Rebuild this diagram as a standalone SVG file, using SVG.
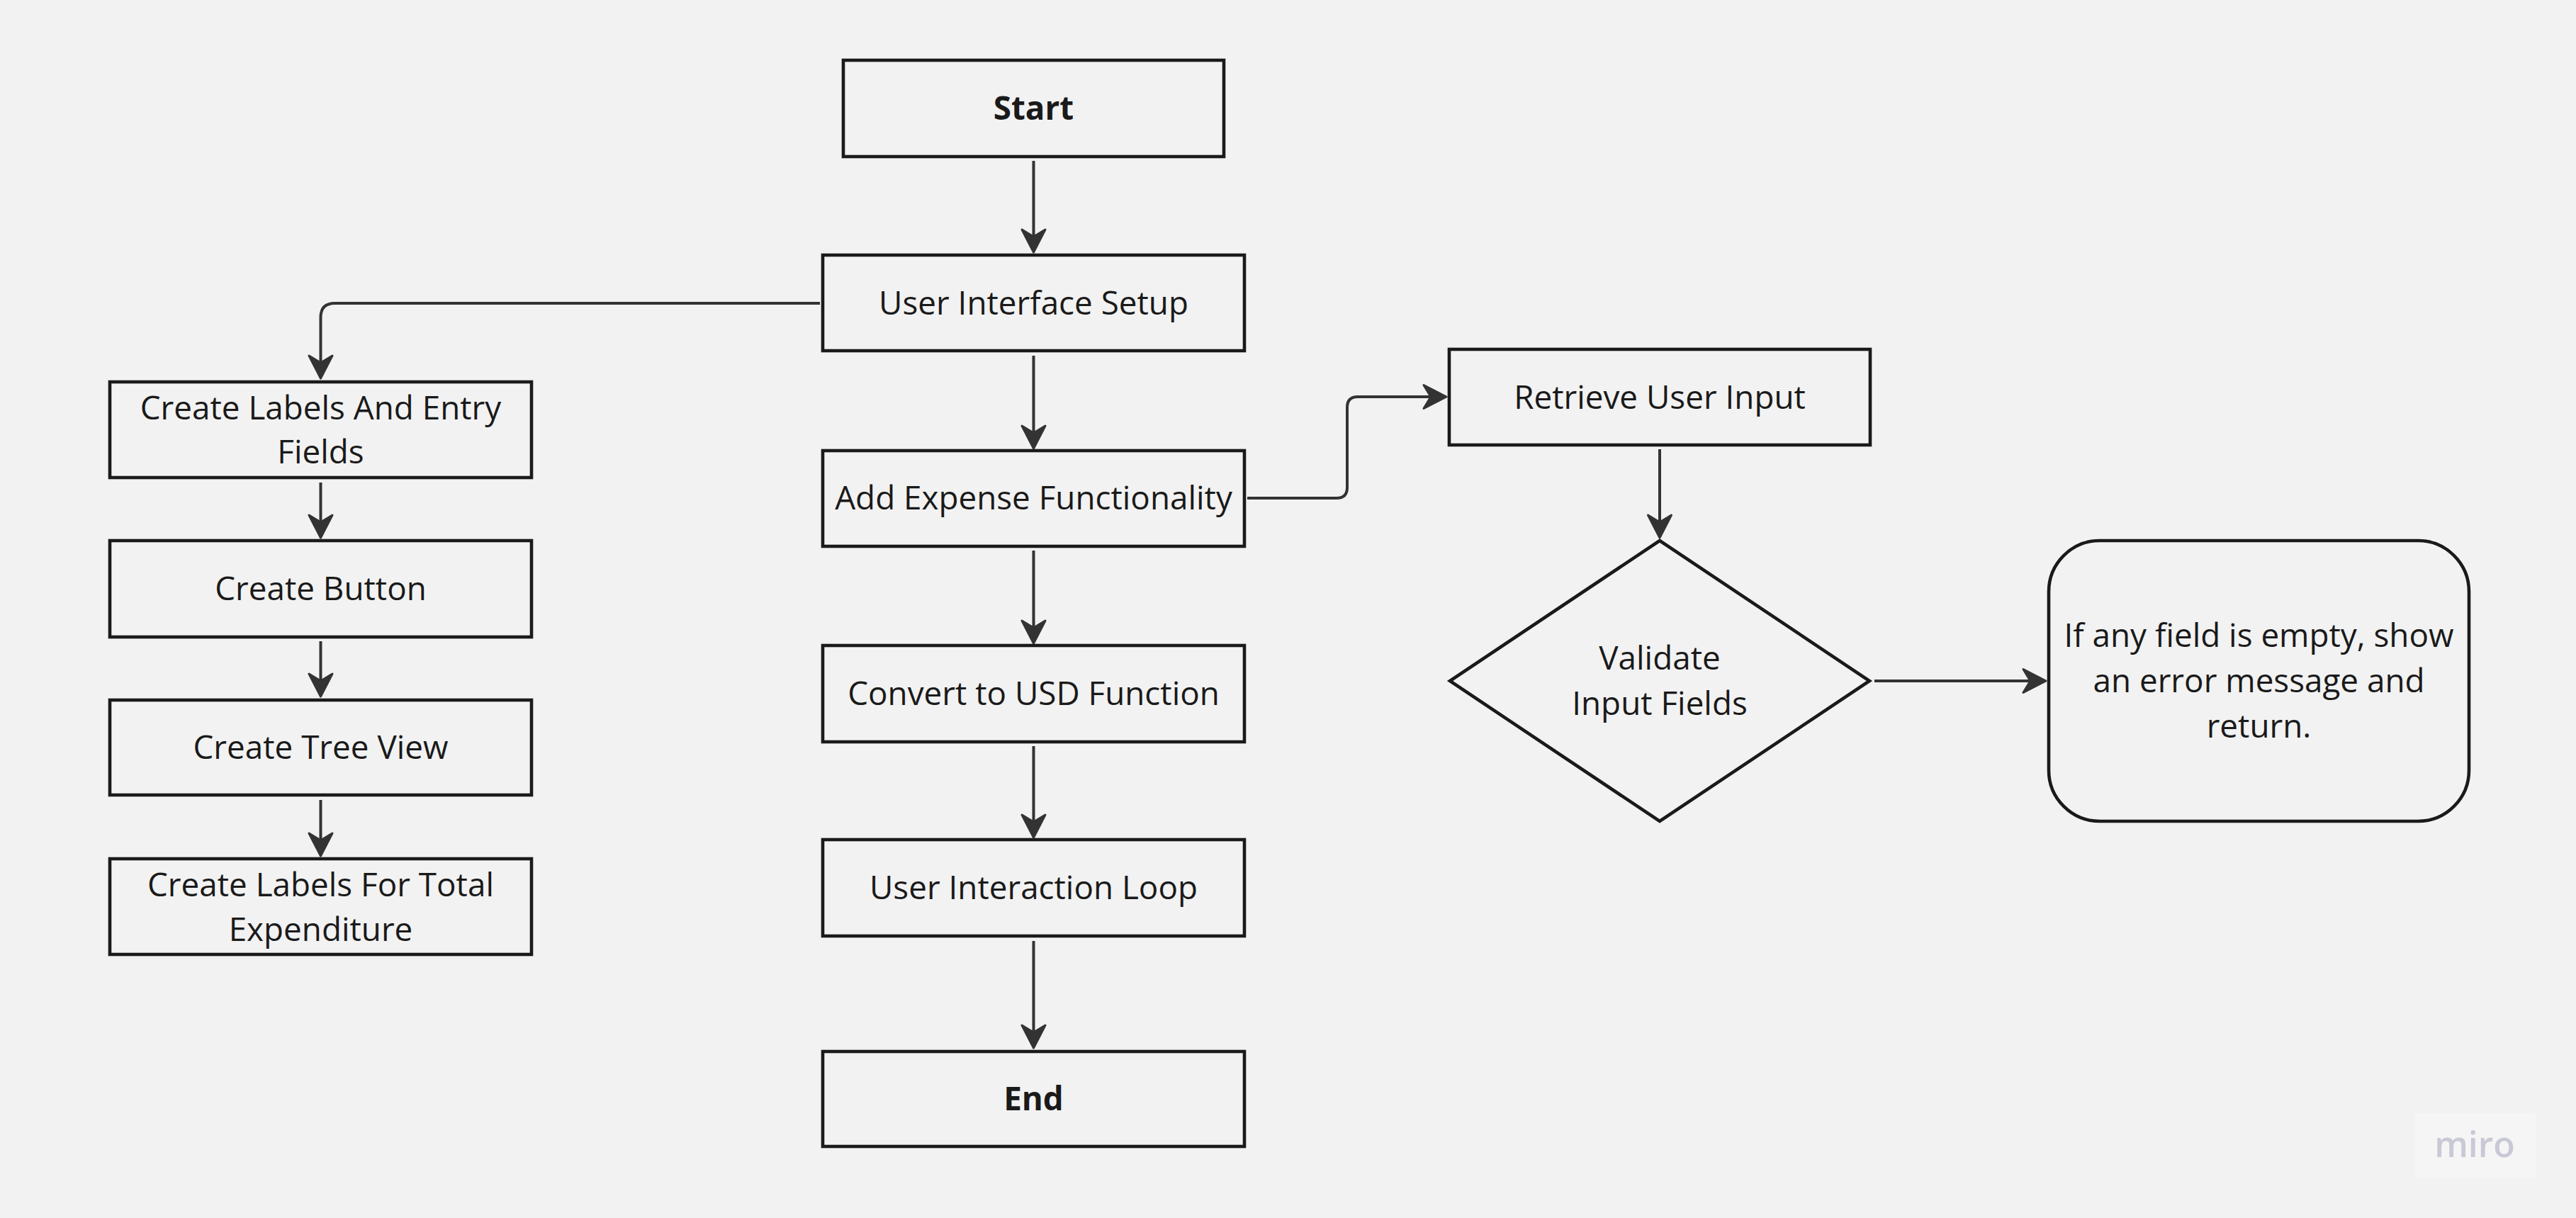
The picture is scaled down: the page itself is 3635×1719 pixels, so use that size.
<svg xmlns="http://www.w3.org/2000/svg" width="3635" height="1719" viewBox="0 0 3635 1719">
<style>
.bg{fill:#f2f2f2}
.box{fill:#f2f2f2;stroke:#1a1a1a;stroke-width:4.6}
.t{font-family:"Open Sans","Noto Sans","Liberation Sans",sans-serif;font-size:45.8px;fill:#1a1a1a;text-anchor:middle}
.b{font-weight:bold}
.c{fill:none;stroke:#333;stroke-width:4}
</style>
<defs>
<marker id="ah" markerUnits="userSpaceOnUse" viewBox="-14 -22 40 44" refX="0" refY="0" markerWidth="40" markerHeight="44" orient="auto" overflow="visible">
<path d="M22,0 L-10,-16.5 L0,0 L-10,16.5 Z" fill="#333" stroke="#333" stroke-width="3" stroke-linejoin="round"/>
</marker>
</defs>
<rect class="bg" x="0" y="0" width="3635" height="1719"/>

<g id="connectors">
<path class="c" marker-end="url(#ah)" d="M1458.5,227 V334"/>
<path class="c" marker-end="url(#ah)" d="M1157,428 H472.5 Q452.5,428 452.5,448 V512"/>
<path class="c" marker-end="url(#ah)" d="M1458.5,502 V611"/>
<path class="c" marker-end="url(#ah)" d="M1458.5,777 V886"/>
<path class="c" marker-end="url(#ah)" d="M1458.5,1053 V1160"/>
<path class="c" marker-end="url(#ah)" d="M1458.5,1328 V1457"/>
<path class="c" marker-end="url(#ah)" d="M1760,703 H1886 Q1901,703 1901,688 V575 Q1901,560 1916,560 H2019"/>
<path class="c" marker-end="url(#ah)" d="M2342,634 V737"/>
<path class="c" marker-end="url(#ah)" d="M2645,961 H2865"/>
<path class="c" marker-end="url(#ah)" d="M452.5,681 V737"/>
<path class="c" marker-end="url(#ah)" d="M452.5,905 V961"/>
<path class="c" marker-end="url(#ah)" d="M452.5,1129 V1186"/>
</g>

<g id="start">
<rect class="box" x="1190" y="85" width="537" height="136"/>
<text class="t b" x="1458.5" y="169">Start</text>
</g>
<g id="ui-setup">
<rect class="box" x="1161" y="360" width="595" height="135"/>
<text class="t" x="1458.5" y="444">User Interface Setup</text>
</g>
<g id="add-expense">
<rect class="box" x="1161" y="636" width="595" height="135"/>
<text class="t" x="1458.5" y="719">Add Expense Functionality</text>
</g>
<g id="convert-usd">
<rect class="box" x="1161" y="911" width="595" height="136"/>
<text class="t" x="1458.5" y="995">Convert to USD Function</text>
</g>
<g id="interaction-loop">
<rect class="box" x="1161" y="1185" width="595" height="136"/>
<text class="t" x="1458.5" y="1269">User Interaction Loop</text>
</g>
<g id="end">
<rect class="box" x="1161" y="1484" width="595" height="134"/>
<text class="t b" x="1458.5" y="1567">End</text>
</g>

<g id="labels-entry">
<rect class="box" x="155" y="539" width="595" height="135"/>
<text class="t" x="452.5" y="592">Create Labels And Entry</text>
<text class="t" x="452.5" y="654">Fields</text>
</g>
<g id="create-button">
<rect class="box" x="155" y="763" width="595" height="136"/>
<text class="t" x="452.5" y="847">Create Button</text>
</g>
<g id="tree-view">
<rect class="box" x="155" y="988" width="595" height="134"/>
<text class="t" x="452.5" y="1071">Create Tree View</text>
</g>
<g id="labels-total">
<rect class="box" x="155" y="1212" width="595" height="135"/>
<text class="t" x="452.5" y="1265">Create Labels For Total</text>
<text class="t" x="452.5" y="1328">Expenditure</text>
</g>

<g id="retrieve-input">
<rect class="box" x="2045" y="493" width="594" height="135"/>
<text class="t" x="2342" y="577">Retrieve User Input</text>
</g>
<g id="validate">
<polygon class="box" points="2342,763 2638,961 2342,1159 2046,961"/>
<text class="t" x="2342" y="945">Validate</text>
<text class="t" x="2342" y="1009">Input Fields</text>
</g>
<g id="error-return">
<rect class="box" x="2891" y="763" width="593" height="396" rx="72" ry="72"/>
<text class="t" x="3187.5" y="913">If any field is empty, show</text>
<text class="t" x="3187.5" y="977">an error message and</text>
<text class="t" x="3187.5" y="1041">return.</text>
</g>

<g id="miro-logo">
<rect x="3408" y="1571" width="170" height="91" fill="#f5f5f5"/>
<text x="3492" y="1633" font-family="'Open Sans','Noto Sans',sans-serif" font-weight="600" font-size="50" fill="#c9c9d6" text-anchor="middle">miro</text>
</g>
</svg>
